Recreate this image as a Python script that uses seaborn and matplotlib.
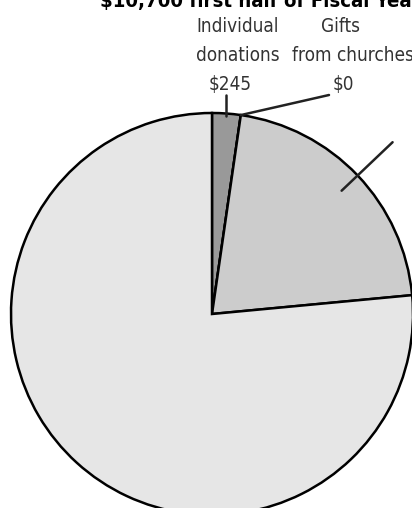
import matplotlib
matplotlib.use("Agg")
import matplotlib.pyplot as plt
import seaborn as sns
import numpy as np
from matplotlib import font_manager
from matplotlib.font_manager import FontProperties

# revenue sources, first half of the fiscal year
categories = ["Individual donations", "Gifts from churches", "Grants", "Other"]
values = [245, 0, 2270, 8185]
label_lines = [["Individual", "donations", "$245"], ["Gifts", "from churches", "$0"]]
colors = ["#999999", "#cccccc", "#cccccc", "#e6e6e6"]
title = "$10,700 first half of Fiscal Year"

sns.set_style("white")
plt.rcParams["font.family"] = ["Liberation Sans", "DejaVu Sans"]


def find_narrow(bold):
    # a condensed face file, the labels are set in a narrow type
    for f in font_manager.fontManager.ttflist:
        narrow = ("Narrow" in f.name or "Condensed" in f.name
                  or f.stretch in ("condensed", "semi-condensed", 500, 600)
                  or "Condensed" in f.fname)
        is_bold = f.weight in ("bold", 700) or (isinstance(f.weight, int) and f.weight >= 600)
        if narrow and is_bold == bold and f.style == "normal":
            return f.fname
    return None


reg, bld = find_narrow(False), find_narrow(True)
if reg:
    lab_fp = FontProperties(fname=reg, size=13.6)
else:
    lab_fp = FontProperties(family="Liberation Sans", size=12.5)
if bld:
    tit_fp = FontProperties(fname=bld, size=14.6)
else:
    tit_fp = FontProperties(family="Liberation Sans", weight="bold", size=13.5)

W, H = 412, 508
cx, cy, R = 212, 314, 201
fig = plt.figure(figsize=(W / 100, H / 100), dpi=100)
ax = fig.add_axes([(cx - R) / W, (H - cy - R) / H, 2 * R / W, 2 * R / H])

wedges, _ = ax.pie(values, colors=colors, startangle=90, counterclock=False,
                   wedgeprops=dict(edgecolor="black", linewidth=1.8))
ax.set_xlim(-1, 1)
ax.set_ylim(-1, 1)
ax.set_aspect("auto")
ax.axis("off")


def px(x, y):
    # pixel position in the picture -> data coords of the pie axes
    return (x - cx) / R, (cy - y) / R


def polar(theta_deg, r):
    t = np.deg2rad(theta_deg)
    return r * np.cos(t), r * np.sin(t)


def put_label(lines, xcs):
    for line, xc, base in zip(lines, xcs, [32, 61, 90]):
        ax.annotate(line, xy=px(xc, base), ha="center", va="baseline",
                    fontproperties=lab_fp, color="#333333", annotation_clip=False)


# individual donations
w = wedges[0]
mid = (w.theta1 + w.theta2) / 2
x0, y0 = polar(mid, 0.99)
ax.plot([x0, x0], [y0, y0 + 0.1], color="#222222", lw=1.8, clip_on=False)
put_label(label_lines[0], [238, 238, 230])

# gifts from churches (zero slice)
w = wedges[1]
x0, y0 = polar(w.theta1, 1.0)
x1, y1 = px(329, 95)
ax.plot([x0, x1], [y0, y1], color="#222222", lw=1.8, clip_on=False)
put_label(label_lines[1], [341, 353, 343])

# grants (its label falls outside the picture)
w = wedges[2]
mid = (w.theta1 + w.theta2) / 2
x0, y0 = polar(mid, 0.89)
x1, y1 = polar(mid, 1.24)
ax.plot([x0, x1], [y0, y1], color="#222222", lw=1.8, clip_on=False)

fig.text(100 / W, 1 - 7 / H, title, ha="left", va="baseline",
         fontproperties=tit_fp, color="black")

fig.savefig("out.png", dpi=100)
